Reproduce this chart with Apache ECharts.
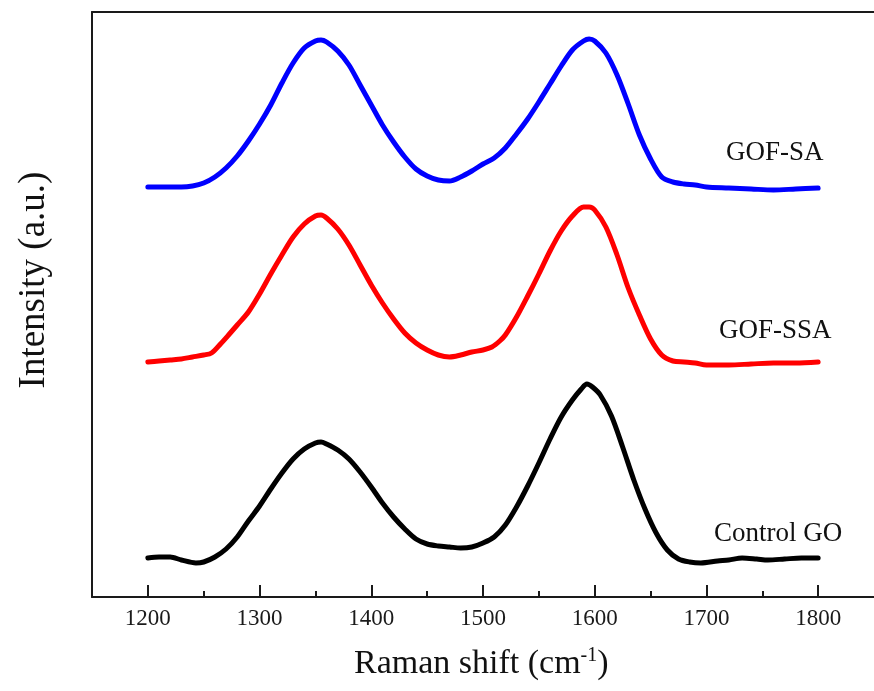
<!DOCTYPE html>
<html>
<head>
<meta charset="utf-8">
<script src="https://cdn.jsdelivr.net/npm/echarts@6/dist/echarts.min.js"></script>
<style>
  html, body { margin: 0; padding: 0; background: #fff; }
  #chart { width: 874px; height: 691px; }
</style>
</head>
<body>
<div id="chart"></div>
<script>
// Raman spectra (arbitrary intensity units, curves stacked with offsets)
const shiftSA = [1200, 1210, 1220, 1230, 1240, 1250, 1260, 1270, 1280, 1290, 1300, 1310, 1320, 1330, 1340, 1350, 1355, 1360, 1370, 1380, 1390, 1400, 1410, 1420, 1430, 1440, 1450, 1460, 1470, 1480, 1490, 1500, 1510, 1520, 1530, 1540, 1550, 1560, 1570, 1580, 1590, 1595, 1600, 1610, 1620, 1630, 1640, 1650, 1660, 1670, 1680, 1690, 1700, 1720, 1740, 1760, 1780, 1800];
const intensitySA = [410, 410, 410, 410, 411, 414, 420, 429, 441, 456, 473, 492, 514, 534, 549, 556, 557, 555, 546, 532, 512, 492, 472, 455, 440, 428, 421, 417, 416, 420, 426, 433, 439, 449, 463, 478, 495, 513, 531, 547, 556, 558, 556, 544, 522, 493, 462, 438, 420, 415, 413, 412, 410, 409, 408, 407, 408, 409];

const shiftSSA = [1200, 1210, 1220, 1230, 1240, 1250, 1257, 1265, 1273, 1280, 1290, 1300, 1310, 1320, 1330, 1340, 1350, 1355, 1360, 1370, 1380, 1390, 1400, 1410, 1420, 1430, 1440, 1450, 1460, 1470, 1480, 1490, 1500, 1508, 1515, 1520, 1530, 1540, 1550, 1560, 1570, 1580, 1590, 1595, 1600, 1610, 1620, 1630, 1640, 1650, 1660, 1670, 1680, 1690, 1700, 1720, 1740, 1760, 1780, 1800];
const intensitySSA = [235, 236, 237, 238, 240, 242, 244, 253, 263, 272, 285, 303, 323, 342, 360, 373, 381, 382, 379, 368, 352, 332, 312, 294, 278, 264, 254, 247, 242, 240, 242, 245, 247, 250, 256, 262, 280, 301, 323, 346, 366, 381, 390, 390, 387, 370, 342, 309, 282, 258, 242, 236, 235, 234, 232, 232, 233, 234, 234, 235];

const shiftGO = [1200, 1210, 1220, 1230, 1243, 1250, 1260, 1270, 1280, 1290, 1300, 1310, 1320, 1330, 1340, 1350, 1355, 1360, 1370, 1380, 1390, 1400, 1410, 1420, 1430, 1440, 1450, 1460, 1470, 1480, 1490, 1500, 1510, 1520, 1530, 1540, 1550, 1560, 1570, 1580, 1588, 1593, 1598, 1605, 1615, 1625, 1635, 1645, 1655, 1665, 1675, 1685, 1695, 1710, 1720, 1732, 1745, 1755, 1770, 1785, 1800];
const intensityGO = [39, 40, 40, 37, 34, 35, 40, 48, 60, 76, 91, 108, 124, 138, 148, 154, 155, 153, 147, 138, 125, 110, 94, 80, 68, 58, 53, 51, 50, 49, 50, 54, 60, 72, 90, 111, 134, 158, 180, 197, 208, 213, 210, 202, 181, 150, 117, 88, 64, 47, 38, 35, 34, 36, 37, 39, 38, 37, 38, 39, 39];

const majorTicks = [1200, 1300, 1400, 1500, 1600, 1700, 1800];
const minorTicks = [1250, 1350, 1450, 1550, 1650, 1750];
const seriesNames = ['GOF-SA', 'GOF-SSA', 'Control GO'];

const pairs = (xs, ys) => xs.map((x, i) => [x, ys[i]]);
const serif = '"Liberation Serif", "Times New Roman", serif';
const ink = '#1a1a1a';

const chart = echarts.init(document.getElementById('chart'), null, { renderer: 'canvas' });

function line(name, xs, ys, color) {
  return {
    name: name,
    type: 'line',
    data: pairs(xs, ys),
    smooth: 0.3,
    showSymbol: false,
    lineStyle: { color: color, width: 5, cap: 'round', join: 'round' },
    xAxisIndex: 0,
    yAxisIndex: 0,
    z: 3
  };
}

chart.setOption({
  backgroundColor: '#fff',
  animation: false,
  grid: { left: 92, top: 12, right: -6, bottom: 94, containLabel: false },
  xAxis: [
    {
      type: 'value',
      min: 1150,
      max: 1850,
      position: 'bottom',
      axisLine: { show: true, onZero: false, lineStyle: { color: ink, width: 2 } },
      axisTick: { show: true, inside: true, length: 12, customValues: majorTicks, lineStyle: { color: ink, width: 2 } },
      axisLabel: {
        show: true, customValues: majorTicks, margin: 10, color: ink,
        fontFamily: serif, fontSize: 23, formatter: v => String(v)
      },
      splitLine: { show: false }
    },
    {
      type: 'value',
      min: 1150,
      max: 1850,
      position: 'bottom',
      axisLine: { show: false, onZero: false },
      axisTick: { show: true, inside: true, length: 6, customValues: minorTicks, lineStyle: { color: ink, width: 2 } },
      axisLabel: { show: false },
      splitLine: { show: false }
    },
    {
      type: 'value',
      min: 1150,
      max: 1850,
      position: 'top',
      axisLine: { show: true, onZero: false, lineStyle: { color: ink, width: 2 } },
      axisTick: { show: false },
      axisLabel: { show: false },
      splitLine: { show: false }
    }
  ],
  yAxis: {
    type: 'value',
    min: 0,
    max: 585,
    axisLine: { show: true, onZero: false, lineStyle: { color: ink, width: 2 } },
    axisTick: { show: false },
    axisLabel: { show: false },
    splitLine: { show: false }
  },
  series: [
    line(seriesNames[0], shiftSA, intensitySA, '#0000ff'),
    line(seriesNames[1], shiftSSA, intensitySSA, '#ff0000'),
    line(seriesNames[2], shiftGO, intensityGO, '#000000')
  ],
  graphic: [
    { type: 'text', left: 726, top: 139, style: { text: seriesNames[0], font: '27px ' + serif, fill: '#111' } },
    { type: 'text', left: 719, top: 317, style: { text: seriesNames[1], font: '27px ' + serif, fill: '#111' } },
    { type: 'text', left: 714, top: 520, style: { text: seriesNames[2], font: '27px ' + serif, fill: '#111' } },
    {
      type: 'text', left: 354, top: 646,
      style: {
        text: '{a|Raman shift (cm}{s|-1}{a|)}',
        rich: {
          a: { fontFamily: serif, fontSize: 34, fill: '#111', lineHeight: 42 },
          s: { fontFamily: serif, fontSize: 20, fill: '#111', padding: [0, 0, 17, 0], lineHeight: 42 }
        }
      }
    },
    {
      type: 'text', x: 34, y: 280, rotation: Math.PI / 2,
      style: { text: 'Intensity (a.u.)', font: '37px ' + serif, fill: '#111', align: 'center', verticalAlign: 'middle' }
    }
  ]
});
</script>
</body>
</html>
